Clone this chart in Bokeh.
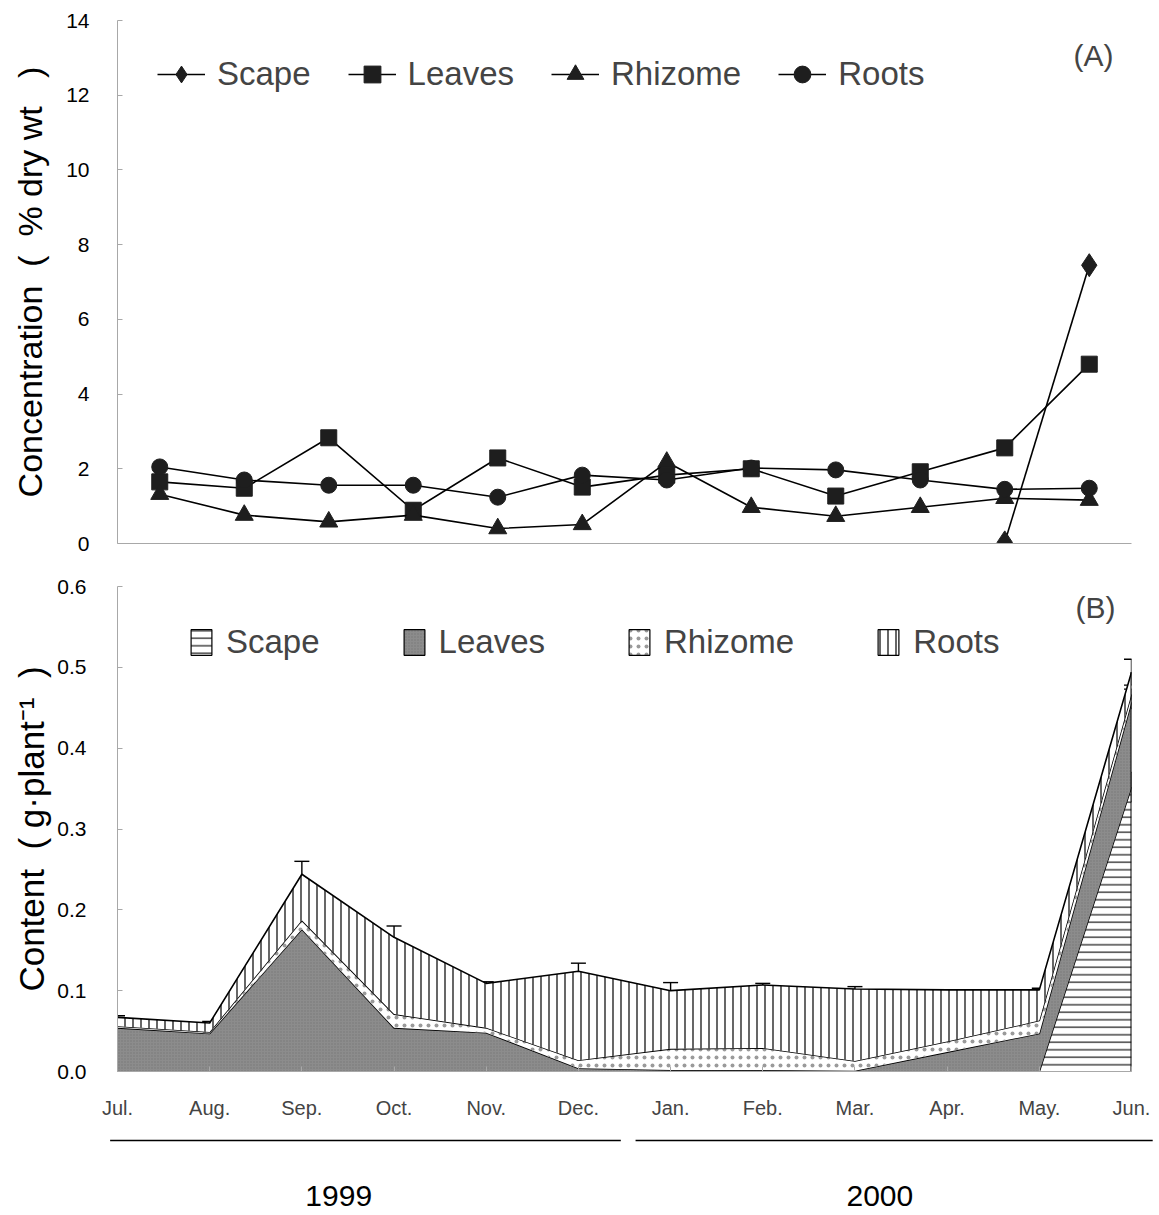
from bokeh.core.properties import value
from bokeh.embed import file_html
from bokeh.layouts import column, row
from bokeh.models import (ColumnDataSource, FixedTicker, Label, Legend, LegendItem,
                          PrintfTickFormatter, Range1d, TeeHead, Whisker)
from bokeh.plotting import figure
from bokeh.resources import INLINE

NAN = float("nan")

# ---------------------------------------------------------------- data
months = ["Jul.", "Aug.", "Sep.", "Oct.", "Nov.", "Dec.",
          "Jan.", "Feb.", "Mar.", "Apr.", "May.", "Jun."]
years = ["1999", "2000"]
year_first = [0, 6]
year_last = [5, 11]

# (A) concentration, % dry wt
conc_scape = [NAN, NAN, NAN, NAN, NAN, NAN, NAN, NAN, NAN, NAN, 0.03, 7.45]
conc_leaves = [1.65, 1.48, 2.83, 0.89, 2.29, 1.51, 1.83, 2.00, 1.27, 1.92, 2.56, 4.80]
conc_rhizome = [1.32, 0.76, 0.58, 0.76, 0.40, 0.51, 2.18, 0.97, 0.73, 0.97, 1.21, 1.16]
conc_roots = [2.05, 1.70, 1.56, 1.56, 1.24, 1.83, 1.70, 2.02, 1.97, 1.70, 1.45, 1.48]

# (B) content, g per plant (stacked: scape, leaves, rhizome, roots)
cont_scape = [0, 0, 0, 0, 0, 0, 0, 0, 0, 0, 0, 0.352]
cont_leaves = [0.054, 0.047, 0.176, 0.054, 0.048, 0.004, 0.002, 0.002, 0.001, 0.024, 0.047, 0.105]
cont_rhizome = [0.002, 0.002, 0.011, 0.017, 0.006, 0.010, 0.026, 0.027, 0.012, 0.013, 0.016, 0.010]
cont_roots = [0.011, 0.011, 0.057, 0.095, 0.055, 0.110, 0.072, 0.078, 0.089, 0.064, 0.038, 0.027]

se_scape = [0, 0, 0, 0, 0, 0, 0, 0, 0, 0, 0, 0.018]
se_leaves = [0.002, 0.002, 0.003, 0.003, 0.002, 0.001, 0.001, 0.001, 0.001, 0, 0.015, 0.008]
se_rhizome = [0.001, 0.002, 0.004, 0.003, 0.002, 0.002, 0.003, 0.004, 0.002, 0, 0.004, 0.006]
se_roots = [0.002, 0.002, 0.016, 0.014, 0.002, 0.010, 0.010, 0.002, 0.003, 0, 0.002, 0.016]

# ---------------------------------------------------------------- style
W = 1159
LEFT = 117
SANS = "Liberation Sans"
AXIS_GRAY = "#a8a8a8"
x = list(range(len(months)))


def style_left_axis(ax, ticks, standoff, label_standoff, label_size):
    ax.ticker = FixedTicker(ticks=ticks)
    ax.axis_line_color = AXIS_GRAY
    ax.axis_line_width = 1
    ax.major_tick_line_color = AXIS_GRAY
    ax.major_tick_in = 5
    ax.major_tick_out = 0
    ax.minor_tick_line_color = None
    ax.major_label_text_font = SANS
    ax.major_label_text_font_size = "21px"
    ax.major_label_text_color = "black"
    ax.major_label_standoff = standoff
    ax.axis_label_text_font = SANS
    ax.axis_label_text_font_size = label_size
    ax.axis_label_text_font_style = "normal"
    ax.axis_label_text_color = "black"
    ax.axis_label_standoff = label_standoff


# ---------------------------------------------------------------- (A)
top = figure(width=W, height=565, output_backend="svg", toolbar_location=None,
             x_range=Range1d(-0.5, 11.5), y_range=Range1d(0, 14),
             min_border_left=LEFT, min_border_right=26,
             min_border_top=20, min_border_bottom=22)
top.outline_line_color = None
top.grid.visible = False
style_left_axis(top.yaxis[0], list(range(0, 15, 2)), 28, 14, "34px")
top.yaxis[0].axis_label = "Concentration\u00a0\u00a0(\u00a0\u00a0%\u00a0dry\u00a0wt\u00a0\u00a0\u00a0)"
top.xaxis[0].axis_line_color = AXIS_GRAY
top.xaxis[0].major_tick_line_color = None
top.xaxis[0].minor_tick_line_color = None
top.xaxis[0].major_label_text_font_size = "0px"
top.xaxis[0].ticker = FixedTicker(ticks=[])

series_a = [
    ("Scape", conc_scape, "diamond", 23),
    ("Leaves", conc_leaves, "square", 16),
    ("Rhizome", conc_rhizome, "triangle", 18),
    ("Roots", conc_roots, "circle", 16),
]
items_a = []
for name, vals, marker, size in series_a:
    src = ColumnDataSource(dict(x=x, y=vals))
    ln = top.line("x", "y", source=src, line_color="black", line_width=1.6)
    sc = top.scatter("x", "y", source=src, marker=marker, size=size,
                     fill_color="#1e1e1e", line_color="#1e1e1e")
    items_a.append(LegendItem(label=name, renderers=[ln, sc]))

leg_a = Legend(items=items_a, orientation="horizontal", location=(40, 448),
               label_text_font=SANS, label_text_font_size="33px",
               glyph_width=48, glyph_height=42, label_standoff=12, spacing=37,
               padding=0, margin=0, border_line_color=None, background_fill_alpha=0)
top.add_layout(leg_a)
top.add_layout(Label(x=11.05, y=13.05, text="(A)", text_align="center",
                     text_baseline="middle", text_font=SANS, text_font_size="30px"))

# ---------------------------------------------------------------- (B)
bot = figure(width=W, height=565, output_backend="svg", toolbar_location=None,
             x_range=Range1d(0, 11), y_range=Range1d(0, 0.6),
             min_border_left=LEFT, min_border_right=28,
             min_border_top=21, min_border_bottom=59)
bot.outline_line_color = None
bot.grid.visible = False
style_left_axis(bot.yaxis[0], [0, 0.1, 0.2, 0.3, 0.4, 0.5, 0.6], 31, 3, "35px")
bot.yaxis[0].formatter = PrintfTickFormatter(format="%.1f")
bot.yaxis[0].axis_label = "Content\u00a0\u00a0(\u00a0g\u00b7plant\u207b\u00b9\u00a0\u00a0)"
xa = bot.xaxis[0]
xa.ticker = FixedTicker(ticks=x)
xa.major_label_overrides = {i: m for i, m in enumerate(months)}
xa.axis_line_color = AXIS_GRAY
xa.major_tick_line_color = AXIS_GRAY
xa.major_tick_in = 5
xa.major_tick_out = 0
xa.minor_tick_line_color = None
xa.major_label_text_font = SANS
xa.major_label_text_font_size = "20px"
xa.major_label_standoff = 25

layers = [
    ("Scape", cont_scape, se_scape, dict(fill_color="white", hatch_pattern="horizontal_line",
                                         hatch_scale=7.5, hatch_weight=1.1, hatch_color="black")),
    ("Leaves", cont_leaves, se_leaves, dict(fill_color="#8c8c8c", hatch_pattern="dot",
                                            hatch_scale=3, hatch_weight=1, hatch_color="#777777")),
    ("Rhizome", cont_rhizome, se_rhizome, dict(fill_color="white", hatch_pattern="dot",
                                               hatch_scale=8, hatch_weight=0.5, hatch_color="#9a9a9a")),
    ("Roots", cont_roots, se_roots, dict(fill_color="white", hatch_pattern="vertical_line",
                                         hatch_scale=8, hatch_weight=1.2, hatch_color="black")),
]

base = [0.0] * len(x)
items_b = []
bars = []
for name, vals, se, fill in layers:
    upper = [b + v for b, v in zip(base, vals)]
    bot.varea(x=x, y1=base, y2=upper, **fill)
    bot.line(x=x, y=upper, line_color="black", line_width=1.6)
    keep = [i for i, s in enumerate(se) if s > 0]
    bars.append(dict(x=[x[i] for i in keep],
                     lo=[upper[i] - se[i] for i in keep],
                     hi=[upper[i] + se[i] for i in keep]))
    # legend swatch: an outlined box with the same fill and hatch
    swatch = bot.quad(left=[NAN], right=[NAN], top=[NAN], bottom=[NAN], line_color="black",
                      line_width=1.2, **fill)
    items_b.append(LegendItem(label=name, renderers=[swatch]))
    base = upper

# closing edge of the stack at the last month
bot.segment(x0=[x[-1]], y0=[0], x1=[x[-1]], y1=[base[-1]], line_color="black", line_width=2)

for b in bars:
    src = ColumnDataSource(b)
    bot.add_layout(Whisker(source=src, base="x", lower="lo", upper="hi",
                           line_color="black", line_width=1.4,
                           lower_head=TeeHead(size=15, line_width=1.4, line_color="black"),
                           upper_head=TeeHead(size=15, line_width=1.4, line_color="black")))

leg_b = Legend(items=items_b, orientation="horizontal", location=(71, 410),
               label_text_font=SANS, label_text_font_size="33px",
               glyph_width=26, glyph_height=32, label_standoff=12, spacing=81,
               padding=0, margin=0, border_line_color=None, background_fill_alpha=0)
bot.add_layout(leg_b)
bot.add_layout(Label(x=10.61, y=0.574, text="(B)", text_align="center",
                     text_baseline="middle", text_font=SANS, text_font_size="30px"))

# ---------------------------------------------------------------- year brackets
px_per_month = (W - LEFT - 28) / 11
yr = figure(width=W, height=85, output_backend="svg", toolbar_location=None,
            x_range=Range1d(-LEFT / px_per_month, (W - LEFT) / px_per_month),
            y_range=Range1d(0, 85), x_axis_type=None, y_axis_type=None,
            min_border_left=0, min_border_right=0, min_border_top=0, min_border_bottom=0)
yr.outline_line_color = None
yr.grid.visible = False
yr.segment(x0=[f - 0.08 if f == 0 else f - 0.38 for f in year_first],
           x1=[l + 0.46 if l < 11 else l + 0.23 for l in year_last],
           y0=[75, 75], y1=[75, 75], line_color="black", line_width=1.5)
yr.text(x=[(f + l) / 2 - d for f, l, d in zip(year_first, year_last, (0.1, 0.23))],
        y=[20, 20], text=years, text_align="center", text_baseline="middle",
        text_font=value(SANS), text_font_size="30px")

layout = column(top, bot, row(yr, spacing=0), spacing=0)
open("out.html", "w").write(file_html(layout, INLINE))
